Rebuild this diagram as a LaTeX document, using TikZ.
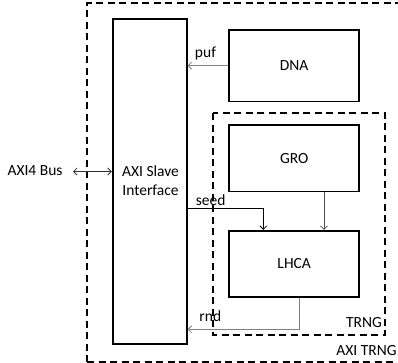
\documentclass[tikz,border=0pt]{standalone}
\usepackage{fontspec}
\setmainfont{Carlito}
\usetikzlibrary{arrows.meta}
\begin{document}
\begin{tikzpicture}[x=1bp,y=-1bp,
  every node/.style={font=\fontsize{15.5bp}{19bp}\selectfont, inner sep=0pt},
  blk/.style={draw=black, line width=1.8bp, minimum width=130bp, align=center},
  grp/.style={draw=black, line width=1.8bp, dash pattern=on 7bp off 4.5bp},
  sig/.style={line width=0.8bp, -{Straight Barb[length=3.5bp,width=7bp]}},
  lbl/.style={anchor=center}
]
\useasboundingbox (0,0) rectangle (398,363);
\clip (0,0) rectangle (398,363);
% outer AXI TRNG group
\draw[grp] (87,362) -- (87,3) -- (410,3);
\draw[grp] (87,362) -- (410,362);
% TRNG group
\draw[grp] (213.3,113.3) rectangle (385,335);
% blocks
\node[blk, minimum width=74bp, minimum height=325bp] (axi) at (149.7,181.7) {};
\node[align=center] (axit) at (150.5,181) {AXI Slave\\Interface};
\node[blk, minimum height=71.5bp] (dna) at (294.2,65.7) {DNA};
\node[blk, minimum height=66.5bp] (gro) at (294.2,158.2) {GRO};
\node[blk, minimum height=66bp] (lhca) at (294.2,263.8) {LHCA};
% labels
\node (bus) at (35,170.5) {AXI4 Bus};
\node (puf) at (205.5,53.5) {puf};
\node (seed) at (210.7,200.5) {seed};
\node (rnd) at (210.3,316) {rnd};
\node (trng) at (364,323) {TRNG};
\node (axitrng) at (366.5,351) {AXI TRNG};
% connectors
\coordinate (busend) at (73,171.5);
\draw[line width=0.8bp, color=black!80, {Straight Barb[length=3.5bp,width=7bp]}-{Straight Barb[length=3.5bp,width=7bp]}] (busend) -- (axi.west |- busend);
\draw[sig, color=black!50] (dna.west) -- (axi.east |- dna.west);
\coordinate (sd) at (263.3,208.3);
\draw[sig, color=black] (axi.east |- sd) -- (sd) -- (sd |- lhca.north);
\coordinate (gx) at (324,0);
\draw[sig, color=black!70] (gx |- gro.south) -- (gx |- lhca.north);
\coordinate (rx) at (299.3,329.3);
\draw[sig, color=black!50] (rx |- lhca.south) -- (rx) -- (rx -| axi.east);
\end{tikzpicture}
\end{document}
